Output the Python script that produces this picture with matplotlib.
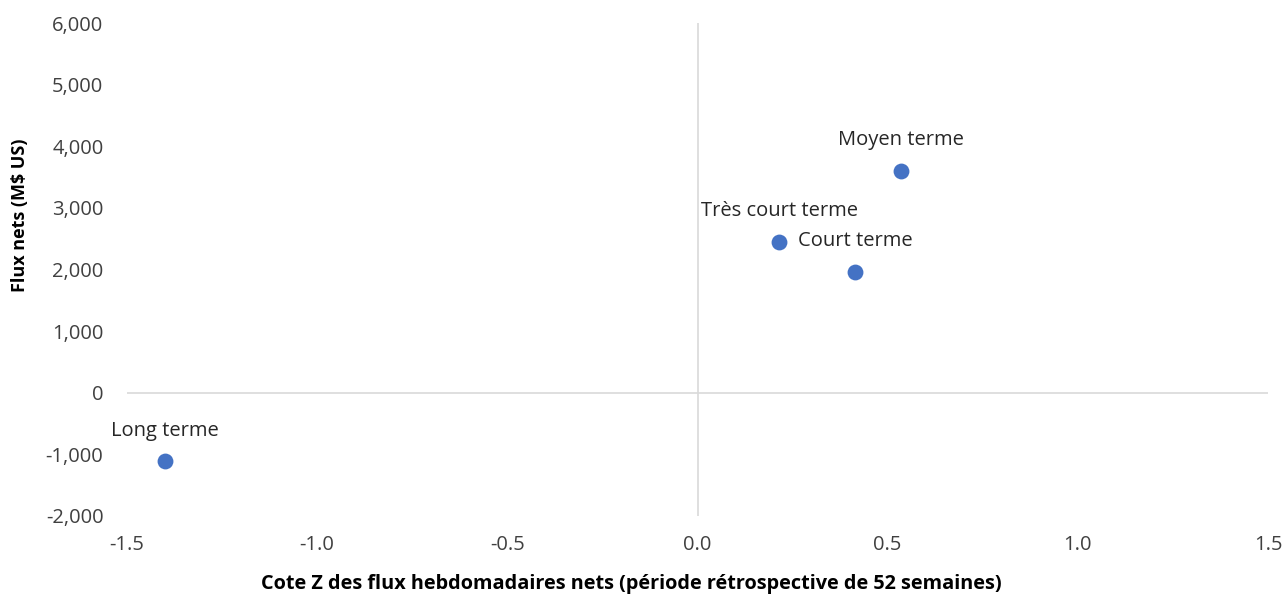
import numpy as np
import matplotlib.pyplot as plt
from matplotlib.ticker import FuncFormatter

# data
names = ['Long terme', 'Très court terme', 'Court terme', 'Moyen terme']
zscore = [-1.40, 0.215, 0.415, 0.535]
flows = [-1110, 2450, 1960, 3600]

plt.rcParams['font.family'] = ['Open Sans', 'DejaVu Sans']

fig = plt.figure(figsize=(12.86, 6.01), dpi=100)
ax = fig.add_axes([127/1286, 1 - 516/601, (1268-127)/1286, (516-23)/601])

ax.scatter(zscore, flows, s=130, color='#4472C4', zorder=3, linewidths=0)
for name, x, y in zip(names, zscore, flows):
    ax.annotate(name, (x, y), xytext=(0, 22), textcoords='offset points',
                ha='center', va='center', fontsize=14.5, color='#262626')

# axis lines through the origin
ax.axhline(0, color='#d9d9d9', lw=1.2, zorder=1)
ax.axvline(0, color='#d9d9d9', lw=1.2, zorder=1)

ax.set_xlim(-1.5, 1.5)
ax.set_ylim(-2000, 6000)
ax.set_xticks(np.arange(-1.5, 1.51, 0.5))
ax.set_yticks(np.arange(-2000, 6001, 1000))
ax.xaxis.set_major_formatter(FuncFormatter(lambda v, p: '{:.1f}'.format(v)))
ax.yaxis.set_major_formatter(FuncFormatter(lambda v, p: '{:,.0f}'.format(v)))
ax.tick_params(length=0, labelsize=14.5, labelcolor='#404040')
ax.tick_params(axis='y', pad=17)
ax.tick_params(axis='x', pad=14)
for s in ax.spines.values():
    s.set_visible(False)

# axis titles are centred on the chart area, not the plot area
ax.set_xlabel('Cote Z des flux hebdomadaires nets (période rétrospective de 52 semaines)',
              fontsize=14.3, fontweight='bold')
ax.xaxis.set_label_coords(0.442, -0.118)
ax.set_ylabel(r'Flux nets (M\$ US)', fontsize=13, fontweight='bold')
ax.yaxis.set_label_coords(-0.086, 0.61)

fig.savefig('out.png', dpi=100)
